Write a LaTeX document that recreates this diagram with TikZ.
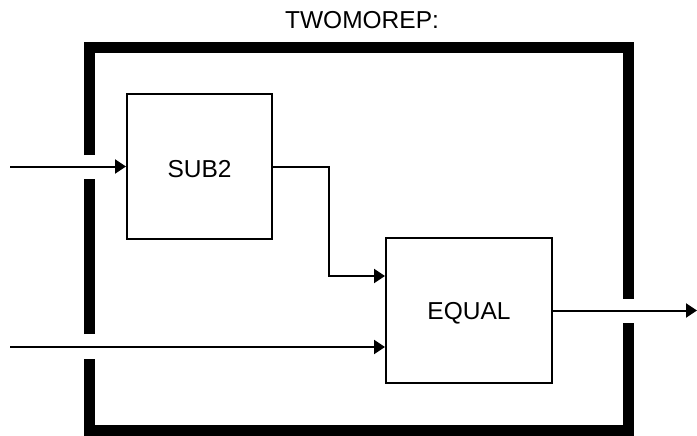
\documentclass[tikz,border=0pt]{standalone}
\usepackage{fontspec}
\setmainfont{Liberation Sans}
\usetikzlibrary{arrows.meta}
\begin{document}
\begin{tikzpicture}[x=1pt,y=-1pt,
  blk/.style={draw,line width=2pt,minimum width=#1,minimum height=145pt,inner sep=0pt,font=\fontsize{24.5}{28}\selectfont},
  lbl/.style={font=\fontsize{24.5}{28}\selectfont,text depth=0pt,inner sep=0pt},
  wire/.style={line width=2pt,-{Triangle[length=11pt,width=14pt]}},
  frame/.style={line width=11pt,line cap=butt,line join=miter}]
\useasboundingbox (0,0) rectangle (697,436);
\node[lbl] (title) at (362,20) {TWOMOREP:};
\draw[frame] (89,155) -- (89,47.5) -- (628,47.5) -- (628,299);
\draw[frame] (628,323) -- (628,430.5) -- (89,430.5) -- (89,359);
\draw[frame] (89,334) -- (89,179);
\node[blk=145pt] (sub2) at (199.5,166.5) {};
\node[blk=166pt] (equal) at (469,310.5) {};
\node[lbl] (sub2t) at ([yshift=-2.5pt]sub2.center) {SUB2};
\node[lbl] (equalt) at ([yshift=-0.5pt]equal.center) {EQUAL};
\coordinate (in1) at (10,166.5);
\coordinate (in2) at (10,347);
\coordinate (j) at (329,276);
\coordinate (out) at (697,310.5);
\draw[wire] (in1) -- (sub2.west);
\draw[wire] (in2) -- (in2 -| equal.west);
\draw[wire] (sub2.east) -| (j) -- (j -| equal.west);
\draw[wire] (equal.east) -- (out);
\end{tikzpicture}
\end{document}
